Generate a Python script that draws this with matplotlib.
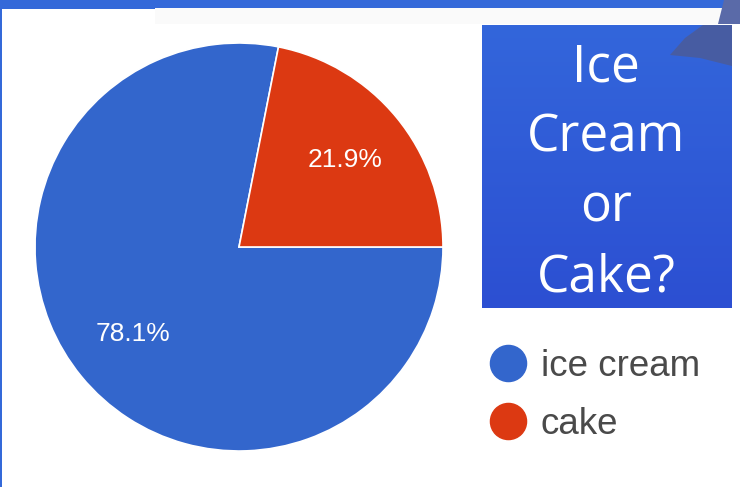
import matplotlib
matplotlib.use("Agg")
import matplotlib.pyplot as plt
import numpy as np
from matplotlib.patches import Rectangle, Polygon
from matplotlib.lines import Line2D

categories = ["ice cream", "cake"]
values = [78.1, 21.9]
colors = ["#3366CC", "#DC3912"]
title_lines = ["Ice", "Cream", "or", "Cake?"]

W, H = 740, 487
fig = plt.figure(figsize=(W / 100, H / 100), dpi=100)
fig.patch.set_facecolor("white")

def fx(x):
    return x / W

def fy(y):
    return 1 - y / H

# top bar & left edge
fig.patches.append(Rectangle((fx(155), fy(24)), fx(740 - 155), 16 / H, transform=fig.transFigure,
                             facecolor="#fafafa", edgecolor="none", zorder=0))
fig.patches.append(Rectangle((0, fy(8)), 1, 8 / H, transform=fig.transFigure,
                             facecolor="#3469d9", edgecolor="none", zorder=0))
fig.patches.append(Rectangle((0, fy(9)), fx(155), 9 / H, transform=fig.transFigure,
                             facecolor="#3469d9", edgecolor="none", zorder=0))
fig.patches.append(Rectangle((0, 0), 2 / W, 1, transform=fig.transFigure,
                             facecolor="#3469d9", edgecolor="none", zorder=0))
fig.patches.append(Polygon([[fx(724), fy(0)], [fx(740), fy(0)], [fx(740), fy(24)], [fx(718), fy(24)]],
                           closed=True, transform=fig.transFigure,
                           facecolor="#5a6aa8", edgecolor="none", zorder=0))

# pie
cx, cy, r = 239, 247, 204
ax = fig.add_axes([fx(cx - r), fy(cy + r), 2 * r / W, 2 * r / H])
wedges, texts, autotexts = ax.pie(
    values, colors=colors, startangle=0, counterclock=False, radius=1,
    autopct="%.1f%%", pctdistance=0.67,
    wedgeprops=dict(edgecolor="white", linewidth=1.2),
    textprops=dict(color="white", fontsize=19, family="Liberation Sans"))
ax.set_xlim(-1.0, 1.0)
ax.set_ylim(-1.0, 1.0)
ax.axis("off")

# title box with gradient
bx0, by0, bx1, by1 = 482, 25, 732, 308
tax = fig.add_axes([fx(bx0), fy(by1), (bx1 - bx0) / W, (by1 - by0) / H])
grad = np.linspace(0, 1, 256).reshape(-1, 1)
top = np.array([0x33, 0x66, 0xdb]) / 255
bot = np.array([0x2c, 0x4f, 0xd2]) / 255
img = top[None, None, :] * (1 - grad[:, :, None]) + bot[None, None, :] * grad[:, :, None]
tax.imshow(img, extent=[0, 1, 0, 1], aspect="auto", origin="upper")

def bp(x, y):
    return [(x - bx0) / (bx1 - bx0), (by1 - y) / (by1 - by0)]

tax.add_patch(Polygon([bp(670, 55), bp(685, 38), bp(703, 25), bp(732, 25), bp(732, 66),
                       bp(700, 58)],
                      closed=True, facecolor="#4a5c9c", edgecolor="none", alpha=0.9))
tax.set_xlim(0, 1)
tax.set_ylim(0, 1)
tax.axis("off")

baselines = [82, 152, 222, 291]
for line, yb in zip(title_lines, baselines):
    fig.text(fx(606), fy(yb), line, color="white", fontsize=37, family="Open Sans",
             ha="center", va="baseline")

# legend
handles = [Line2D([], [], marker="o", linestyle="none", markersize=26,
                  markerfacecolor=c, markeredgecolor=c) for c in colors]
leg = fig.legend(handles, categories, loc="upper left",
                 bbox_to_anchor=(fx(490), fy(349)), frameon=False,
                 prop=dict(family="Liberation Sans", size=26.5), labelcolor="#4a4a4a",
                 handlelength=1.0, handletextpad=0.38, labelspacing=0.62,
                 borderaxespad=0, borderpad=0)

fig.savefig("out.png", dpi=100, facecolor="white")
